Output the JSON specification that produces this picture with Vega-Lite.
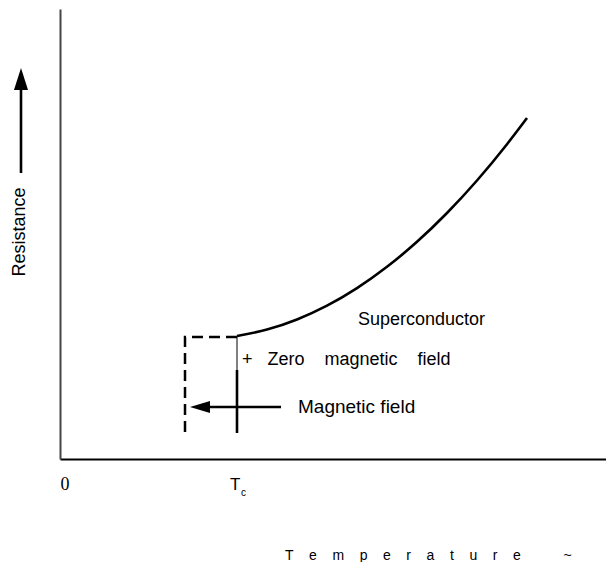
{
  "$schema": "https://vega.github.io/schema/vega-lite/v6.json",
  "width": 546,
  "height": 450,
  "autosize": {"type": "none"},
  "padding": {"left": 60, "top": 9, "right": 0, "bottom": 103},
  "background": "white",
  "config": {"view": {"stroke": null}},
  "datasets": {
    "curve": [
      {"t": 177, "r": 123}, {"t": 207, "r": 129.4}, {"t": 237, "r": 139.5}, {"t": 267, "r": 153.3},
      {"t": 297, "r": 170.9}, {"t": 327, "r": 192.2}, {"t": 357, "r": 217.2}, {"t": 387, "r": 246},
      {"t": 417, "r": 278.5}, {"t": 447, "r": 314.8}, {"t": 467, "r": 341}
    ],
    "dashed": [
      {"i": 0, "t": 177, "r": 122}, {"i": 1, "t": 125, "r": 122}, {"i": 2, "t": 125, "r": 26}
    ],
    "thin": [{"t": 177, "r": 122, "r2": 89}],
    "thick": [
      {"t": 177, "t2": 177, "r": 89, "r2": 26},
      {"t": 138, "t2": 221, "r": 52, "r2": 52},
      {"t": -39, "t2": -39, "r": 286, "r2": 370}
    ],
    "headLeft": [{"t": 140, "r": 52}],
    "headUp": [{"t": -39, "r": 380}],
    "labelSuper": [{"label": "Superconductor", "t": 298, "r": 134}],
    "labelMag": [{"label": "Magnetic field", "t": 238, "r": 46}],
    "labelZero": [{"label": "+\u00a0\u00a0\u00a0Zero\u00a0\u00a0\u00a0\u00a0magnetic\u00a0\u00a0\u00a0\u00a0field", "t": 182, "r": 94}],
    "labelResist": [{"label": "Resistance", "t": -40, "r": 227}],
    "labelZeroTick": [{"label": "0", "t": 5, "r": -31}],
    "labelT": [{"label": "T", "t": 170, "r": -31}],
    "labelC": [{"label": "c", "t": 181, "r": -37}],
    "labelTemp": [{"label": "T\u00a0\u00a0\u00a0\u00a0e\u00a0\u00a0\u00a0\u00a0m\u00a0\u00a0\u00a0\u00a0p\u00a0\u00a0\u00a0\u00a0e\u00a0\u00a0\u00a0\u00a0r\u00a0\u00a0\u00a0\u00a0a\u00a0\u00a0\u00a0\u00a0t\u00a0\u00a0\u00a0\u00a0u\u00a0\u00a0\u00a0\u00a0r\u00a0\u00a0\u00a0\u00a0e\u00a0\u00a0\u00a0\u00a0\u00a0\u00a0\u00a0\u00a0\u00a0\u00a0\u00a0~", "t": 225, "r": -101}]
  },
  "layer": [
    {
      "data": {"name": "curve"},
      "mark": {"type": "line", "interpolate": "monotone", "color": "black", "strokeWidth": 2.6, "clip": false},
      "encoding": {
        "x": {"field": "t", "type": "quantitative", "scale": {"domain": [0, 546], "nice": false, "zero": false},
          "axis": {"title": null, "labels": false, "ticks": false, "grid": false, "domainColor": "black", "domainWidth": 2}},
        "y": {"field": "r", "type": "quantitative", "scale": {"domain": [0, 450], "nice": false, "zero": false},
          "axis": {"title": null, "labels": false, "ticks": false, "grid": false, "domainColor": "#444", "domainWidth": 2}}
      }
    },
    {
      "data": {"name": "dashed"},
      "mark": {"type": "line", "color": "black", "strokeWidth": 2.5, "strokeDash": [11, 6]},
      "encoding": {
        "x": {"field": "t", "type": "quantitative"},
        "y": {"field": "r", "type": "quantitative"},
        "order": {"field": "i", "type": "quantitative"}
      }
    },
    {
      "data": {"name": "thin"},
      "mark": {"type": "rule", "color": "black", "strokeWidth": 1},
      "encoding": {
        "x": {"field": "t", "type": "quantitative"},
        "y": {"field": "r", "type": "quantitative"},
        "y2": {"field": "r2"}
      }
    },
    {
      "data": {"name": "thick"},
      "mark": {"type": "rule", "color": "black", "strokeWidth": 2.6, "clip": false},
      "encoding": {
        "x": {"field": "t", "type": "quantitative"},
        "x2": {"field": "t2"},
        "y": {"field": "r", "type": "quantitative"},
        "y2": {"field": "r2"}
      }
    },
    {
      "data": {"name": "headLeft"},
      "mark": {"type": "point", "shape": "M-1,0L1,-0.6L1,0.6Z", "size": 400, "filled": true, "color": "black", "opacity": 1},
      "encoding": {
        "x": {"field": "t", "type": "quantitative"},
        "y": {"field": "r", "type": "quantitative"}
      }
    },
    {
      "data": {"name": "headUp"},
      "mark": {"type": "point", "shape": "M0,-1L0.64,1L-0.64,1Z", "size": 484, "filled": true, "color": "black", "opacity": 1, "clip": false},
      "encoding": {
        "x": {"field": "t", "type": "quantitative"},
        "y": {"field": "r", "type": "quantitative"}
      }
    },
    {
      "data": {"name": "labelSuper"},
      "mark": {"type": "text", "font": "Liberation Sans", "fontSize": 18, "align": "left", "baseline": "alphabetic", "color": "black"},
      "encoding": {
        "x": {"field": "t", "type": "quantitative"},
        "y": {"field": "r", "type": "quantitative"},
        "text": {"field": "label"}
      }
    },
    {
      "data": {"name": "labelMag"},
      "mark": {"type": "text", "font": "Liberation Sans", "fontSize": 19, "align": "left", "baseline": "alphabetic", "color": "black"},
      "encoding": {
        "x": {"field": "t", "type": "quantitative"},
        "y": {"field": "r", "type": "quantitative"},
        "text": {"field": "label"}
      }
    },
    {
      "data": {"name": "labelZero"},
      "mark": {"type": "text", "font": "Liberation Sans", "fontSize": 18, "align": "left", "baseline": "alphabetic", "color": "black"},
      "encoding": {
        "x": {"field": "t", "type": "quantitative"},
        "y": {"field": "r", "type": "quantitative"},
        "text": {"field": "label"}
      }
    },
    {
      "data": {"name": "labelResist"},
      "mark": {"type": "text", "font": "Liberation Sans", "fontSize": 18, "angle": 270, "align": "center", "baseline": "middle", "color": "black"},
      "encoding": {
        "x": {"field": "t", "type": "quantitative"},
        "y": {"field": "r", "type": "quantitative"},
        "text": {"field": "label"}
      }
    },
    {
      "data": {"name": "labelZeroTick"},
      "mark": {"type": "text", "font": "Liberation Serif", "fontSize": 18, "align": "center", "baseline": "alphabetic", "color": "black"},
      "encoding": {
        "x": {"field": "t", "type": "quantitative"},
        "y": {"field": "r", "type": "quantitative"},
        "text": {"field": "label"}
      }
    },
    {
      "data": {"name": "labelT"},
      "mark": {"type": "text", "font": "Liberation Sans", "fontSize": 17, "align": "left", "baseline": "alphabetic", "color": "black"},
      "encoding": {
        "x": {"field": "t", "type": "quantitative"},
        "y": {"field": "r", "type": "quantitative"},
        "text": {"field": "label"}
      }
    },
    {
      "data": {"name": "labelC"},
      "mark": {"type": "text", "font": "Liberation Sans", "fontSize": 10, "align": "left", "baseline": "alphabetic", "color": "black"},
      "encoding": {
        "x": {"field": "t", "type": "quantitative"},
        "y": {"field": "r", "type": "quantitative"},
        "text": {"field": "label"}
      }
    },
    {
      "data": {"name": "labelTemp"},
      "mark": {"type": "text", "font": "Liberation Sans", "fontSize": 14, "align": "left", "baseline": "alphabetic", "color": "black"},
      "encoding": {
        "x": {"field": "t", "type": "quantitative"},
        "y": {"field": "r", "type": "quantitative"},
        "text": {"field": "label"}
      }
    }
  ]
}
